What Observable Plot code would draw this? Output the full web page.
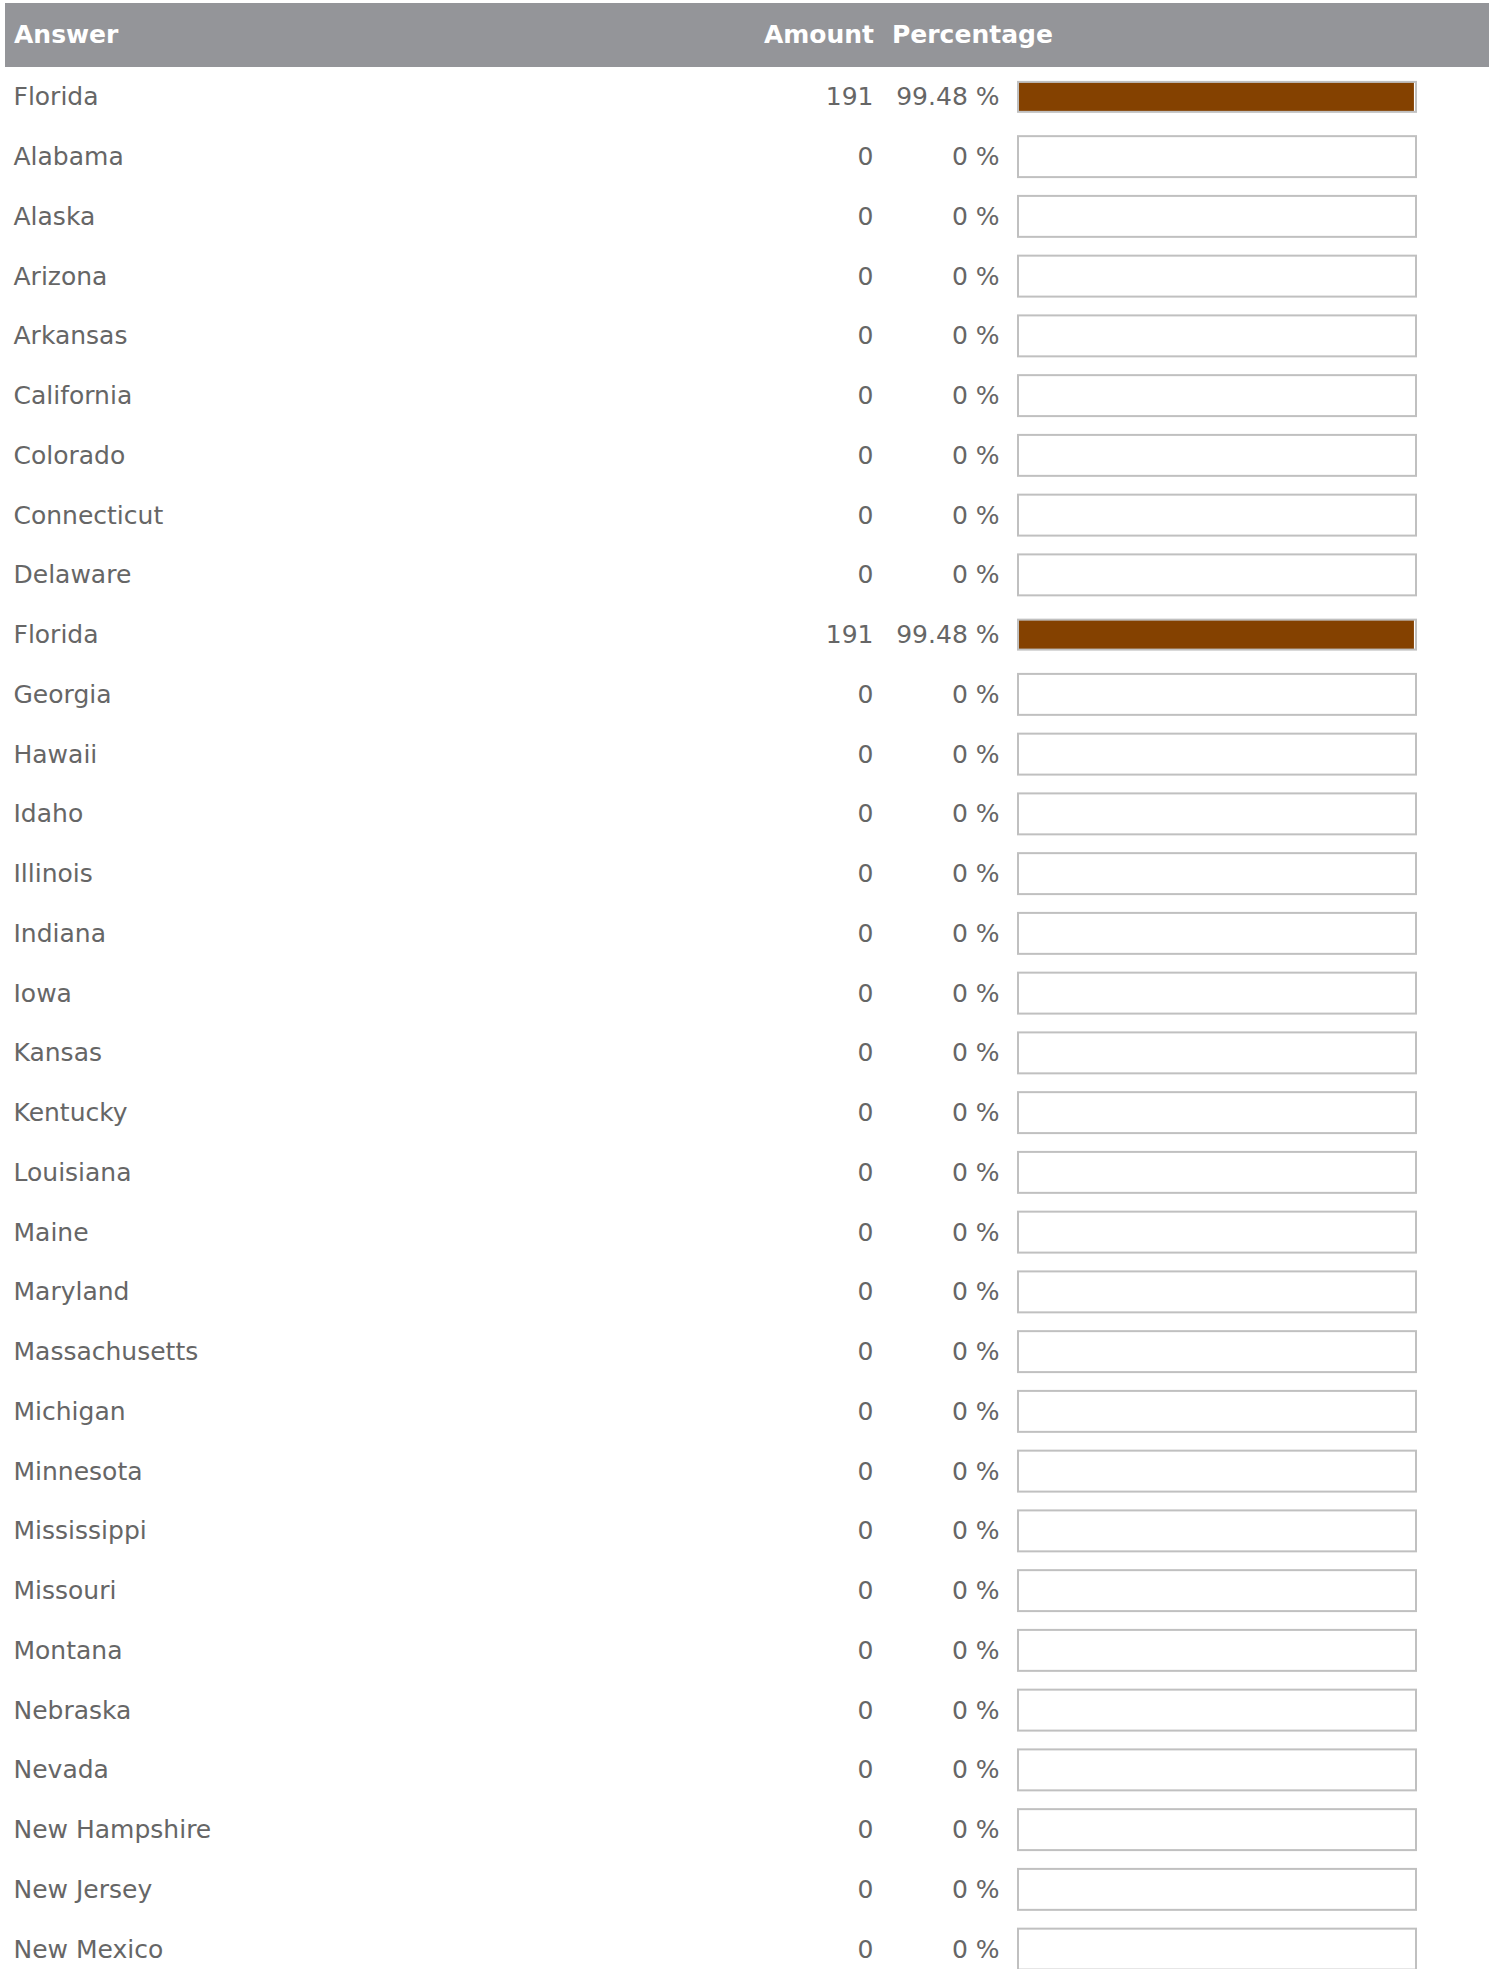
<!DOCTYPE html>
<html>
<head>
<meta charset="utf-8">
<script src="https://cdn.jsdelivr.net/npm/d3@7"></script>
<script src="https://cdn.jsdelivr.net/npm/@observablehq/plot@0.6"></script>
<style>
  html, body { margin: 0; padding: 0; background: #fff; overflow: hidden; }
  #hdr { margin: 3px 0 0 5px; height: 64px; width: 1484px; background: #949599; position: relative;
         font-family: "DejaVu Sans", Verdana, sans-serif; font-weight: bold; font-size: 25px; color: #fff; line-height: 64px; }
  #hdr span { position: absolute; top: 0; white-space: nowrap; }
  #chart svg { display: block; }
</style>
</head>
<body>
<div id="hdr">
  <span style="left:9px">Answer</span>
  <span style="right:615px">Amount</span>
  <span style="left:887px">Percentage</span>
</div>
<div id="chart"></div>
<script>
const states = ["Florida", "Alabama", "Alaska", "Arizona", "Arkansas", "California", "Colorado", "Connecticut",
  "Delaware", "Florida ", "Georgia", "Hawaii", "Idaho", "Illinois", "Indiana", "Iowa", "Kansas", "Kentucky",
  "Louisiana", "Maine", "Maryland", "Massachusetts", "Michigan", "Minnesota", "Mississippi", "Missouri",
  "Montana", "Nebraska", "Nevada", "New Hampshire", "New Jersey", "New Mexico"];
const amounts = [191, 0, 0, 0, 0, 0, 0, 0, 0, 191, 0, 0, 0, 0, 0, 0, 0, 0, 0, 0, 0, 0, 0, 0, 0, 0, 0, 0, 0, 0, 0, 0];
const percentages = [99.48, 0, 0, 0, 0, 0, 0, 0, 0, 99.48, 0, 0, 0, 0, 0, 0, 0, 0, 0, 0, 0, 0, 0, 0, 0, 0, 0, 0, 0, 0, 0, 0];
const total = 100;

const rows = states.map((s, i) => ({state: s, label: s.trim(), amount: amounts[i], pct: percentages[i], total}));
const filled = rows.filter(d => d.amount > 0);
const empty = rows.filter(d => d.amount === 0);

const pitch = 59.75;
const H = Math.round(pitch * rows.length);
const textColor = "#666666";

const chart = Plot.plot({
  width: 1489,
  height: H,
  marginTop: 0,
  marginBottom: 0,
  marginLeft: 1018,
  marginRight: 73,
  style: {fontFamily: "'DejaVu Sans', Verdana, sans-serif", background: "#fff"},
  x: {domain: [0, 100], axis: null},
  y: {domain: states, padding: 0, round: false, axis: null},
  marks: [
    Plot.barX(filled, {y: "state", x1: 0, x2: "pct", fill: "#844100", insetTop: 14.9, insetBottom: 14.9}),
    Plot.barX(filled, {y: "state", x1: 0, x2: "total", fill: "none", stroke: "#c0c0c0", strokeWidth: 2, insetTop: 14.9, insetBottom: 14.9}),
    Plot.barX(empty, {y: "state", x1: 0, x2: "total", fill: "#fff", stroke: "#c0c0c0", strokeWidth: 2, insetTop: 9.4, insetBottom: 9.4}),
    Plot.text(rows, {y: "state", x: 0, dx: -1005, text: "label", textAnchor: "start", fontSize: 25, fill: textColor}),
    Plot.text(rows, {y: "state", x: 0, dx: -145, text: d => String(d.amount), textAnchor: "end", fontSize: 25, fill: textColor}),
    Plot.text(rows, {y: "state", x: 0, dx: -19, text: d => `${d.pct} %`, textAnchor: "end", fontSize: 25, fill: textColor})
  ]
});
document.getElementById("chart").appendChild(chart);
</script>
</body>
</html>
